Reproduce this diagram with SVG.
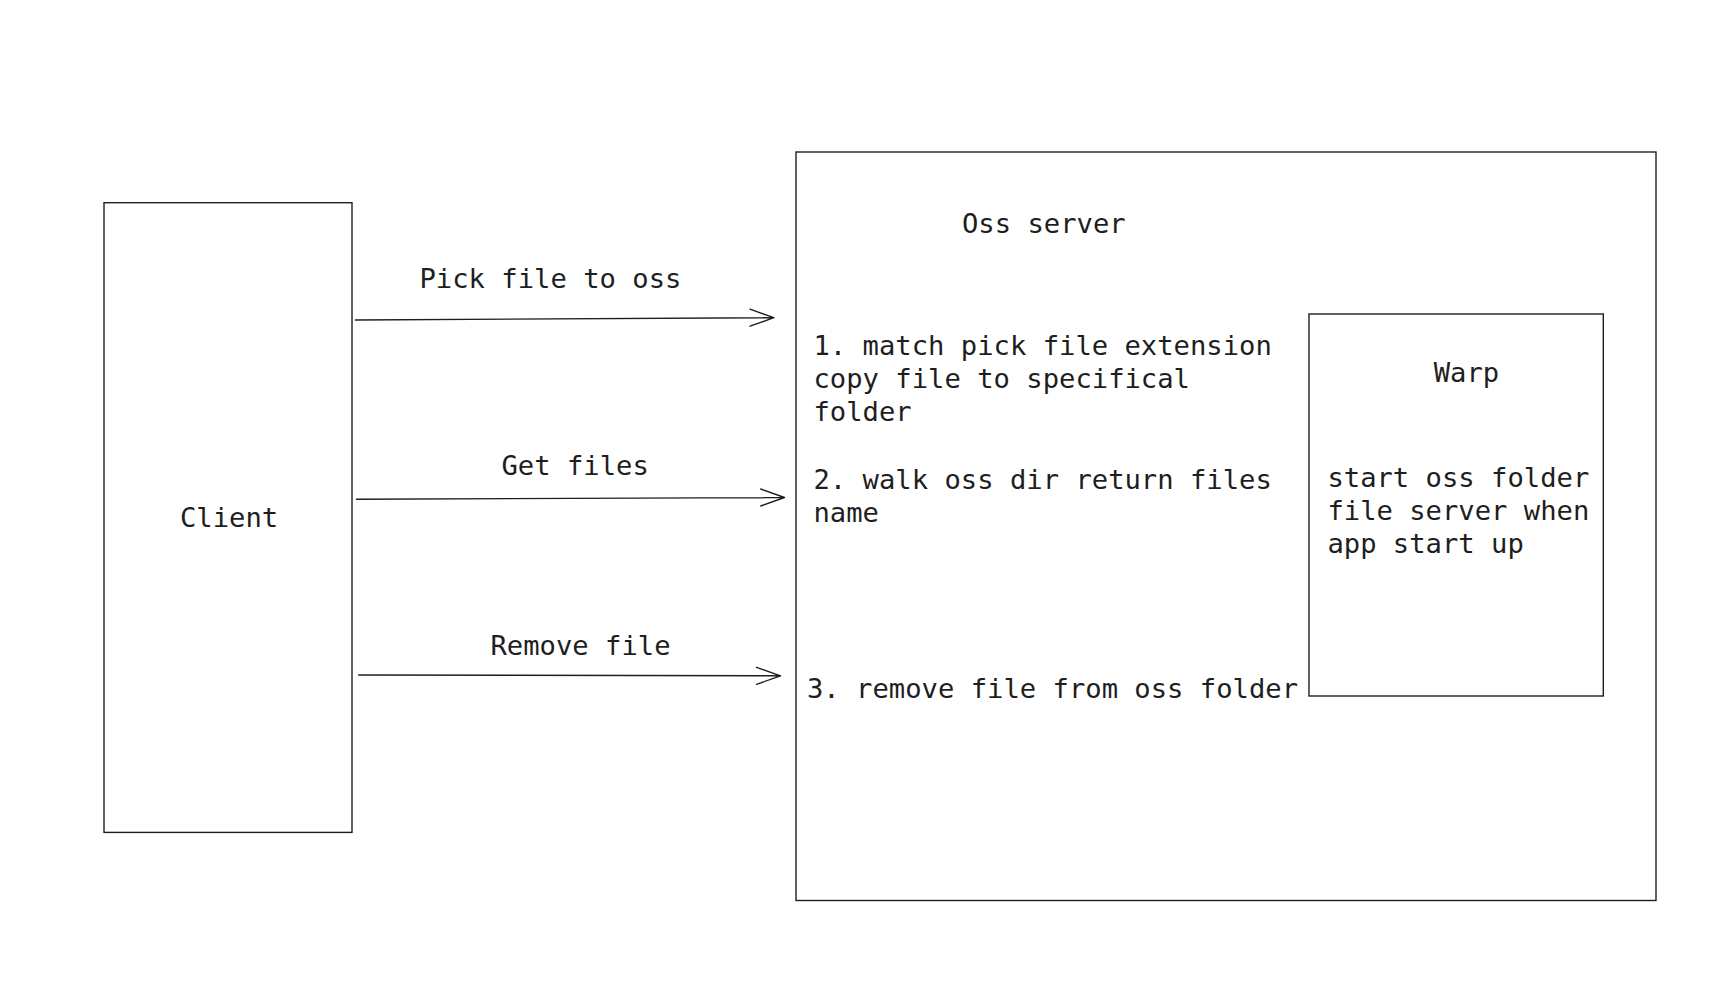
<svg xmlns="http://www.w3.org/2000/svg" width="1736" height="986" viewBox="0 0 1736 986">
<style>
.box{fill:none;stroke:#1e1e1e;stroke-width:1.4}
.conn{fill:none;stroke:#1e1e1e;stroke-width:1.4;stroke-linecap:round;stroke-linejoin:round}
text{font-family:"DejaVu Sans Mono","Liberation Mono",monospace;font-size:27.2px;fill:#1e1e1e}
</style>
<rect width="1736" height="986" fill="#ffffff"/>
<g id="client">
<rect class="box" x="104" y="202.7" width="248" height="629.7"/>
<text x="180" y="526.5">Client</text>
</g>
<g id="oss-server">
<rect class="box" x="796" y="152" width="860" height="748.5"/>
<text x="962" y="233">Oss server</text>
<text x="813.5" y="354.5">1. match pick file extension</text>
<text x="813.5" y="387.7">copy file to specifical</text>
<text x="813.5" y="421">folder</text>
<text x="813.5" y="488.5">2. walk oss dir return files</text>
<text x="813.5" y="521.7">name</text>
<text x="807" y="698">3. remove file from oss folder</text>
</g>
<g id="warp">
<rect class="box" x="1309" y="314" width="294.3" height="382"/>
<text x="1433.7" y="382">Warp</text>
<text x="1327.4" y="486.5">start oss folder</text>
<text x="1327.4" y="519.7">file server when</text>
<text x="1327.4" y="553">app start up</text>
</g>
<g id="connectors">
<path class="conn" d="M355.4 320 L773.9 317.7 M750 309.2 L773.9 317.7 L750 326.2"/>
<path class="conn" d="M356.5 499.3 L784.5 497.5 M760.7 489 L784.5 497.5 L760.7 506"/>
<path class="conn" d="M358.7 675 L780.5 675.8 M756.6 667.3 L780.5 675.8 L756.6 684.3"/>
<text x="419.5" y="287.5">Pick file to oss</text>
<text x="501.5" y="475">Get files</text>
<text x="490.5" y="655">Remove file</text>
</g>
</svg>
